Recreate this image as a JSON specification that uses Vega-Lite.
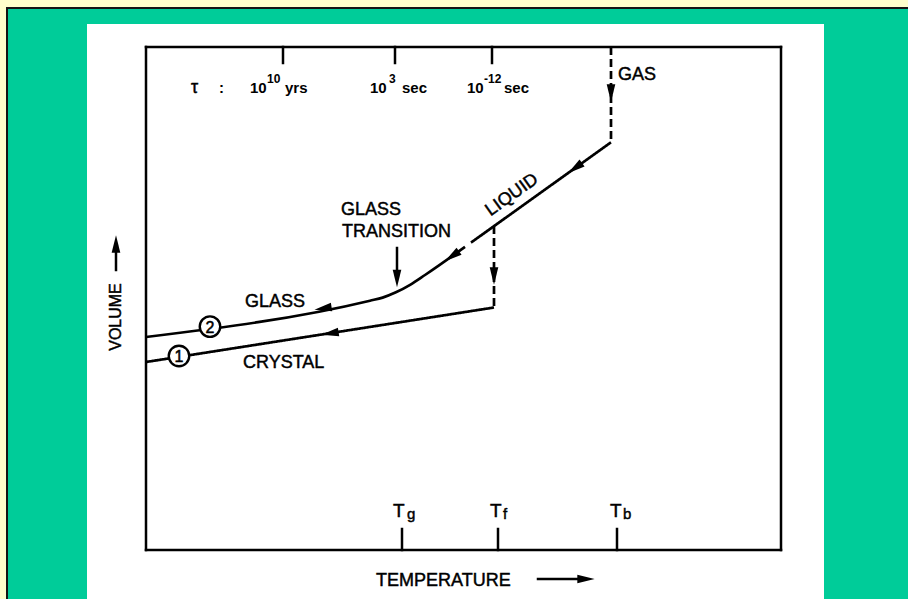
{
  "$schema": "https://vega.github.io/schema/vega-lite/v6.json",
  "width": 635,
  "height": 503,
  "autosize": {"type": "none"},
  "padding": {"left": 146, "top": 47, "right": 127, "bottom": 49},
  "background": "#FFFFCC",
  "config": {"view": {"stroke": null}, "text": {"font": "Liberation Sans", "color": "#000"}},
  "datasets": {
    "panels": [
      {"part": "border", "x": -140, "x2": 762, "y": -49, "y2": 543},
      {"part": "green", "x": -138, "x2": 762, "y": -49, "y2": 541},
      {"part": "white", "x": -59, "x2": 678, "y": -49, "y2": 526}
    ],
    "glass": [
      {"x": 0, "y": 213, "o": 1},
      {"x": 224, "y": 249.3, "o": 2},
      {"x": 236.6, "y": 252.4, "o": 3},
      {"x": 249.9, "y": 257.7, "o": 4},
      {"x": 264.1, "y": 265.2, "o": 5},
      {"x": 279, "y": 275, "o": 6},
      {"x": 319, "y": 303.1, "o": 7}
    ],
    "curves": [
      {"s": "liquid", "st": "solid", "o": 1, "x": 325, "y": 307.4},
      {"s": "liquid", "st": "solid", "o": 2, "x": 465, "y": 407.7},
      {"s": "crystal", "st": "solid", "o": 1, "x": 0, "y": 188},
      {"s": "crystal", "st": "solid", "o": 2, "x": 348, "y": 242.5},
      {"s": "freeze", "st": "dashed", "o": 1, "x": 348, "y": 324},
      {"s": "freeze", "st": "dashed", "o": 2, "x": 348, "y": 242.5},
      {"s": "gas", "st": "dashed", "o": 1, "x": 465, "y": 503},
      {"s": "gas", "st": "dashed", "o": 2, "x": 465, "y": 407.7}
    ],
    "segments": [
      {"x": 0, "y": 0, "x2": 635, "y2": 0},
      {"x": 0, "y": 503, "x2": 635, "y2": 503},
      {"x": 0, "y": 0, "x2": 0, "y2": 503},
      {"x": 635, "y": 0, "x2": 635, "y2": 503},
      {"x": 137, "y": 503, "x2": 137, "y2": 487},
      {"x": 249, "y": 503, "x2": 249, "y2": 487},
      {"x": 346, "y": 503, "x2": 346, "y2": 487},
      {"x": 256, "y": 0, "x2": 256, "y2": 21},
      {"x": 352, "y": 0, "x2": 352, "y2": 21},
      {"x": 471, "y": 0, "x2": 471, "y2": 21},
      {"x": 251, "y": 302, "x2": 251, "y2": 276},
      {"x": -30, "y": 280, "x2": -30, "y2": 300},
      {"x": 392, "y": -29, "x2": 432, "y2": -29}
    ],
    "arrows": [
      {"x": 177, "y": 241.7, "dir": "left"},
      {"x": 184, "y": 216.6, "dir": "left"},
      {"x": 306, "y": 293.8, "dir": "downleft"},
      {"x": 429, "y": 381.9, "dir": "downleft"},
      {"x": 465, "y": 457, "dir": "down"},
      {"x": 348, "y": 274, "dir": "down"},
      {"x": 251, "y": 271.5, "dir": "down"},
      {"x": -30, "y": 306, "dir": "up"},
      {"x": 440, "y": -29, "dir": "right"}
    ],
    "circles": [
      {"x": 64, "y": 223.4, "label": "2"},
      {"x": 33, "y": 194, "label": "1"}
    ],
    "labels": [
      {"role": "main", "x": 472, "y": 470, "text": "GAS"},
      {"role": "main", "x": 195, "y": 335, "text": "GLASS"},
      {"role": "main", "x": 196, "y": 313, "text": "TRANSITION"},
      {"role": "main", "x": 99, "y": 243, "text": "GLASS"},
      {"role": "main", "x": 97, "y": 182, "text": "CRYSTAL"},
      {"role": "main", "x": 230, "y": -36, "text": "TEMPERATURE"},
      {"role": "liquid", "x": 366, "y": 355, "text": "LIQUID"},
      {"role": "vol", "x": -30, "y": 233, "text": "VOLUME"},
      {"role": "tau", "x": 45, "y": 457, "text": "τ"},
      {"role": "top", "x": 73, "y": 457, "text": ":"},
      {"role": "top", "x": 104, "y": 457, "text": "10"},
      {"role": "top", "x": 139, "y": 457, "text": "yrs"},
      {"role": "top", "x": 224, "y": 457, "text": "10"},
      {"role": "top", "x": 256, "y": 457, "text": "sec"},
      {"role": "top", "x": 321, "y": 457, "text": "10"},
      {"role": "top", "x": 358, "y": 457, "text": "sec"},
      {"role": "sup", "x": 121, "y": 467, "text": "10"},
      {"role": "sup", "x": 243, "y": 467, "text": "3"},
      {"role": "sup", "x": 338, "y": 467, "text": "-12"},
      {"role": "T", "x": 247, "y": 33, "text": "T"},
      {"role": "T", "x": 344, "y": 33, "text": "T"},
      {"role": "T", "x": 464, "y": 33, "text": "T"},
      {"role": "sub", "x": 261, "y": 31, "text": "g"},
      {"role": "sub", "x": 357, "y": 31, "text": "f"},
      {"role": "sub", "x": 477, "y": 31, "text": "b"}
    ]
  },
  "encoding": {
    "x": {"field": "x", "type": "quantitative", "scale": {"domain": [0, 635], "nice": false, "zero": false}, "axis": null},
    "y": {"field": "y", "type": "quantitative", "scale": {"domain": [0, 503], "nice": false, "zero": false}, "axis": null}
  },
  "layer": [
    {
      "data": {"name": "panels"},
      "mark": {"type": "rect", "opacity": 1},
      "encoding": {
        "x2": {"field": "x2"},
        "y2": {"field": "y2"},
        "fill": {"field": "part", "type": "nominal", "scale": {"domain": ["border", "green", "white"], "range": ["#151515", "#00CC99", "#FFFFFF"]}, "legend": null}
      }
    },
    {
      "data": {"name": "glass"},
      "mark": {"type": "line", "interpolate": "monotone", "color": "#000", "strokeWidth": 2.7},
      "encoding": {"order": {"field": "o", "type": "quantitative"}}
    },
    {
      "data": {"name": "curves"},
      "mark": {"type": "line", "color": "#000", "strokeWidth": 2.7},
      "encoding": {
        "detail": {"field": "s", "type": "nominal"},
        "order": {"field": "o", "type": "quantitative"},
        "strokeDash": {"field": "st", "type": "nominal", "scale": {"domain": ["solid", "dashed"], "range": [[1, 0], [8, 4]]}, "legend": null}
      }
    },
    {
      "data": {"name": "segments"},
      "mark": {"type": "rule", "color": "#000", "strokeWidth": 2.5, "strokeCap": "square"},
      "encoding": {"x2": {"field": "x2"}, "y2": {"field": "y2"}}
    },
    {
      "data": {"name": "circles"},
      "mark": {"type": "point", "shape": "circle", "filled": true, "fill": "#FFFFFF", "stroke": "#000", "strokeWidth": 2.4, "size": 420, "opacity": 1}
    },
    {
      "data": {"name": "circles"},
      "mark": {"type": "text", "fontSize": 16, "align": "center", "baseline": "middle", "dy": 1, "stroke": "#000", "strokeWidth": 0.5},
      "encoding": {"text": {"field": "label"}}
    },
    {
      "data": {"name": "arrows"},
      "transform": [{"filter": "datum.dir === 'left'"}],
      "mark": {"type": "point", "shape": "M0,-1L0.5,1L-0.5,1Z", "filled": true, "color": "#000", "size": 300, "opacity": 1, "angle": 261}
    },
    {
      "data": {"name": "arrows"},
      "transform": [{"filter": "datum.dir === 'downleft'"}],
      "mark": {"type": "point", "shape": "M0,-1L0.5,1L-0.5,1Z", "filled": true, "color": "#000", "size": 300, "opacity": 1, "angle": 234.4}
    },
    {
      "data": {"name": "arrows"},
      "transform": [{"filter": "datum.dir === 'down'"}],
      "mark": {"type": "point", "shape": "M0,-1L0.5,1L-0.5,1Z", "filled": true, "color": "#000", "size": 300, "opacity": 1, "angle": 180}
    },
    {
      "data": {"name": "arrows"},
      "transform": [{"filter": "datum.dir === 'up'"}],
      "mark": {"type": "point", "shape": "M0,-1L0.5,1L-0.5,1Z", "filled": true, "color": "#000", "size": 300, "opacity": 1, "angle": 0}
    },
    {
      "data": {"name": "arrows"},
      "transform": [{"filter": "datum.dir === 'right'"}],
      "mark": {"type": "point", "shape": "M0,-1L0.5,1L-0.5,1Z", "filled": true, "color": "#000", "size": 300, "opacity": 1, "angle": 90}
    },
    {
      "data": {"name": "labels"},
      "transform": [{"filter": "datum.role === 'main'"}],
      "mark": {"type": "text", "fontSize": 18, "align": "left", "baseline": "alphabetic", "stroke": "#000", "strokeWidth": 0.45},
      "encoding": {"text": {"field": "text"}}
    },
    {
      "data": {"name": "labels"},
      "transform": [{"filter": "datum.role === 'liquid'"}],
      "mark": {"type": "text", "fontSize": 18, "align": "center", "baseline": "middle", "angle": 324.4, "stroke": "#000", "strokeWidth": 0.45},
      "encoding": {"text": {"field": "text"}}
    },
    {
      "data": {"name": "labels"},
      "transform": [{"filter": "datum.role === 'vol'"}],
      "mark": {"type": "text", "fontSize": 16, "align": "center", "baseline": "middle", "angle": 270, "stroke": "#000", "strokeWidth": 0.45},
      "encoding": {"text": {"field": "text"}}
    },
    {
      "data": {"name": "labels"},
      "transform": [{"filter": "datum.role === 'tau'"}],
      "mark": {"type": "text", "fontSize": 18, "align": "left", "baseline": "alphabetic", "stroke": "#000", "strokeWidth": 0.45},
      "encoding": {"text": {"field": "text"}}
    },
    {
      "data": {"name": "labels"},
      "transform": [{"filter": "datum.role === 'top'"}],
      "mark": {"type": "text", "fontSize": 15, "fontWeight": "bold", "align": "left", "baseline": "alphabetic"},
      "encoding": {"text": {"field": "text"}}
    },
    {
      "data": {"name": "labels"},
      "transform": [{"filter": "datum.role === 'sup'"}],
      "mark": {"type": "text", "fontSize": 12, "fontWeight": "bold", "align": "left", "baseline": "alphabetic"},
      "encoding": {"text": {"field": "text"}}
    },
    {
      "data": {"name": "labels"},
      "transform": [{"filter": "datum.role === 'T'"}],
      "mark": {"type": "text", "fontSize": 19, "align": "left", "baseline": "alphabetic", "stroke": "#000", "strokeWidth": 0.45},
      "encoding": {"text": {"field": "text"}}
    },
    {
      "data": {"name": "labels"},
      "transform": [{"filter": "datum.role === 'sub'"}],
      "mark": {"type": "text", "fontSize": 15, "align": "left", "baseline": "alphabetic", "stroke": "#000", "strokeWidth": 0.45},
      "encoding": {"text": {"field": "text"}}
    }
  ]
}
